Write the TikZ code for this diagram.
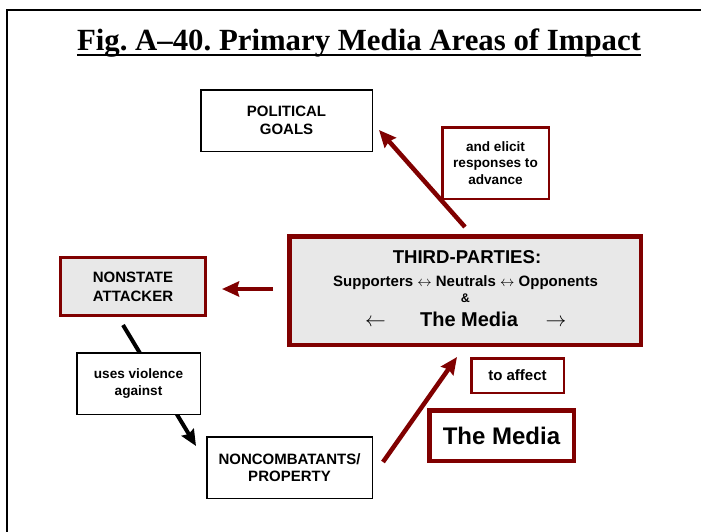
\documentclass[tikz,border=0pt]{standalone}
\usepackage{fontspec}
\setmainfont{Liberation Serif}
\setsansfont{Liberation Sans}
\usetikzlibrary{arrows.meta}
\definecolor{dred}{HTML}{800000}
\definecolor{lgray}{HTML}{E8E8E8}
\newcommand\mysf[2]{\sffamily\bfseries\fontsize{#1}{#2}\selectfont}
\frenchspacing
\begin{document}
\begin{tikzpicture}[x=1pt,y=-1pt,
  box/.style={draw, align=center, inner sep=0pt, outer sep=0pt, text=black},
  blackbox/.style={box, draw=black, line width=1.5pt, fill=white},
  redbox/.style={box, draw=dred, fill=white},
  redarrow/.style={line width=4.5pt, color=dred, -{Stealth[length=17pt,width=15pt,inset=2pt]}},
  blackarrow/.style={line width=4pt, color=black, -{Stealth[length=16pt,width=14pt,inset=2pt]}},
  txt/.style={inner sep=0pt, anchor=base, text=black}
]
\fill[white] (0,0) rectangle (701,531);
\useasboundingbox (0,0) rectangle (701,531);
\draw[line width=2pt] (7,532) -- (7,10) -- (702,10);

% title
\node[txt, font=\rmfamily\bfseries\fontsize{30.8}{30.8}\selectfont] (title) at (359,50) {Fig. A–40. Primary Media Areas of Impact};
\draw[line width=2pt] ([yshift=-5pt]title.base west) -- ([yshift=-5pt]title.base east);

% connector end points
\coordinate (t1) at (465,227); \coordinate (h1) at (379,130);
\coordinate (t2) at (273,289); \coordinate (h2) at (222,289);
\coordinate (t3) at (123,325); \coordinate (h3) at (196,446);
\coordinate (t4) at (383,462); \coordinate (h4) at (457,357);

% connectors drawn below boxes
\draw[redarrow] (t1) -- (h1);
\draw[blackarrow] (t3) -- (h3);

% boxes
\node[blackbox, minimum width=171.5pt, minimum height=61.5pt, font=\mysf{15}{18}] (pol) at (286.5,120.5) {POLITICAL\\GOALS};
\node[redbox, line width=2.5pt, minimum width=106.5pt, minimum height=71.5pt, font=\mysf{13.6}{16.5}] (elicit) at (495.5,163) {and elicit\\responses to\\advance};
\node[redbox, fill=lgray, line width=4.5pt, minimum width=351.5pt, minimum height=108.5pt] (third) at (465,290.5) {};
\node[redbox, fill=lgray, line width=3pt, minimum width=145pt, minimum height=58pt, font=\mysf{15}{19}] (nonstate) at (133,286.5) {NONSTATE\\ATTACKER};
\node[blackbox, minimum width=123.5pt, minimum height=61.5pt, font=\mysf{13.6}{17}] (uses) at (138.5,383.5) {uses violence\\against};
\node[blackbox, minimum width=165.5pt, minimum height=61.5pt, font=\mysf{15}{17}] (noncomb) at (289.5,467.5) {NONCOMBATANTS/\\PROPERTY};
\node[redbox, line width=2.5pt, minimum width=92.5pt, minimum height=34.5pt, font=\mysf{15}{15}] (affect) at (517.5,375.5) {to affect};
\node[redbox, line width=4.5pt, minimum width=144.5pt, minimum height=50.5pt, font=\mysf{24}{24}] (media) at (501.5,435.5) {The Media};

% third-parties text
\node[txt, font=\mysf{18.6}{18.6}] (tp) at (467,263.5) {THIRD-PARTIES:};
\node[txt, font=\mysf{15}{15}] (sup) at (465.5,286) {Supporters $\leftrightarrow$ Neutrals $\leftrightarrow$ Opponents};
\node[txt, font=\mysf{12.5}{12.5}] (amp) at (465.5,302) {\&};
\node[txt, font=\mysf{20}{20}] (tm) at (469,326) {The Media};
\node[txt, font=\mysf{20}{20}] (la) at (375.5,326) {$\leftarrow$};
\node[txt, font=\mysf{20}{20}] (ra) at (556,326) {$\rightarrow$};

% other connectors
\draw[redarrow] (t2) -- (h2);
\draw[redarrow] (t4) -- (h4);
\end{tikzpicture}
\end{document}
